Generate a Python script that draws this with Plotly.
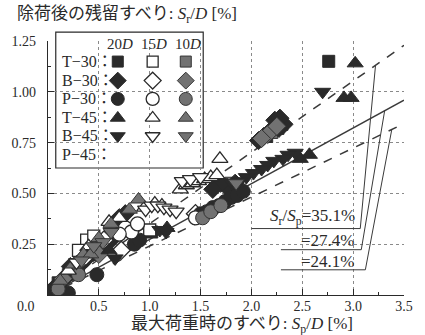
import plotly.graph_objects as go

# ---------------- data ----------------
T30_20_x = [2.76, 2.26, 2.15, 1.02, 0.42, 0.10, 0.30]
T30_20_y = [1.15, 0.82, 0.78, 0.31, 0.20, 0.06, 0.13]
T30_15_x = [1.00, 0.38, 0.30, 0.78, 0.45]
T30_15_y = [0.32, 0.27, 0.22, 0.32, 0.29]
T30_10_x = [2.30, 2.20, 1.80, 0.20]
T30_10_y = [0.84, 0.80, 0.55, 0.10]

B30_20_x = [2.07, 2.12, 2.19, 2.23, 2.27, 2.32, 2.28, 1.84, 1.76, 1.70, 1.62,
            0.05, 0.12, 0.18, 0.25, 0.32, 0.38, 0.45, 0.52, 0.58, 0.62, 0.70, 0.76, 0.22, 0.40]
B30_20_y = [0.76, 0.78, 0.81, 0.86, 0.82, 0.84, 0.87, 0.55, 0.53, 0.55, 0.52,
            0.03, 0.06, 0.09, 0.12, 0.15, 0.18, 0.21, 0.23, 0.26, 0.27, 0.38, 0.40, 0.14, 0.22]
B30_15_x = [0.55, 0.35, 0.72, 1.45]
B30_15_y = [0.27, 0.18, 0.22, 0.40]
B30_10_x = [2.16, 2.25, 2.10, 0.50, 0.28, 0.15]
B30_10_y = [0.79, 0.83, 0.77, 0.20, 0.15, 0.08]

P30_20_x = [0.03, 0.20, 0.48, 0.85, 0.90, 1.50, 1.56, 1.62, 1.68, 1.74, 1.80, 1.86, 1.92]
P30_20_y = [0.02, 0.01, 0.10, 0.25, 0.27, 0.40, 0.41, 0.43, 0.44, 0.46, 0.48, 0.49, 0.51]
P30_15_x = [0.76, 0.82, 0.88, 0.70, 1.45]
P30_15_y = [0.33, 0.31, 0.35, 0.30, 0.38]
P30_10_x = [1.52, 1.60, 1.70, 0.30, 0.10]
P30_10_y = [0.38, 0.41, 0.44, 0.10, 0.03]

T45_20_x = [3.02, 2.91, 2.98, 2.57, 2.48, 1.17, 0.60]
T45_20_y = [1.14, 0.97, 0.97, 0.69, 0.67, 0.33, 0.22]
T45_15_x = [1.69, 1.30, 1.36, 1.42, 1.48, 1.54, 1.60, 1.66, 0.95, 1.05, 1.12, 0.60, 0.70, 0.20, 0.40]
T45_15_y = [0.67, 0.52, 0.54, 0.55, 0.56, 0.57, 0.58, 0.59, 0.43, 0.45, 0.44, 0.36, 0.38, 0.12, 0.24]
T45_10_x = [0.89, 0.80, 0.62, 0.50, 0.35, 0.25, 0.12, 0.42]
T45_10_y = [0.47, 0.42, 0.35, 0.28, 0.20, 0.15, 0.07, 0.20]

B45_20_x = [2.70, 2.43, 2.36, 2.31, 2.22, 2.16, 2.10, 2.02, 1.95, 1.88, 1.81, 1.10, 1.16, 0.66]
B45_20_y = [1.00, 0.70, 0.69, 0.67, 0.66, 0.64, 0.62, 0.60, 0.58, 0.56, 0.55, 0.32, 0.31, 0.18]
B45_15_x = [0.96, 1.02, 1.08, 1.14, 1.20, 1.26, 1.32, 1.40, 1.50, 0.28]
B45_15_y = [0.42, 0.44, 0.44, 0.43, 0.42, 0.41, 0.56, 0.57, 0.58, 0.16]
B45_10_x = [0.54, 0.45, 0.62, 1.85, 0.33]
B45_10_y = [0.26, 0.24, 0.31, 0.55, 0.17]

ratios = [35.1, 27.4, 24.1]           # Sr/Sp [%]
ratio_dash = ["dash", "solid", "dash"]
row_labels = ["T−30：", "B−30：", "P−30：", "T−45：", "B−45：", "P−45："]
col_labels = ["20<i>D</i>", "15<i>D</i>", "10<i>D</i>"]
xticks = [0.0, 0.5, 1.0, 1.5, 2.0, 2.5, 3.0, 3.5]
yticks = [0.0, 0.25, 0.50, 0.75, 1.00, 1.25]

# ---------------- styles ----------------
FONT = "'Liberation Serif', 'Times New Roman', 'Noto Sans CJK JP', serif"
INK = "#2a2a2a"
styles = {
    "20": dict(color=INK, line=dict(color=INK, width=1)),
    "15": dict(color="white", line=dict(color=INK, width=1.3)),
    "10": dict(color="#727272", line=dict(color="#333333", width=1)),
}
symbols = {"T30": "square", "B30": "diamond", "P30": "circle", "T45": "triangle-up", "B45": "triangle-down"}
sizes = {"square": 12, "diamond": 14, "circle": 14, "triangle-up": 14, "triangle-down": 14}

series = [
    ("T30", "20", T30_20_x, T30_20_y), ("T30", "15", T30_15_x, T30_15_y), ("T30", "10", T30_10_x, T30_10_y),
    ("B30", "20", B30_20_x, B30_20_y), ("B30", "15", B30_15_x, B30_15_y), ("B30", "10", B30_10_x, B30_10_y),
    ("P30", "20", P30_20_x, P30_20_y), ("P30", "15", P30_15_x, P30_15_y), ("P30", "10", P30_10_x, P30_10_y),
    ("T45", "20", T45_20_x, T45_20_y), ("T45", "15", T45_15_x, T45_15_y), ("T45", "10", T45_10_x, T45_10_y),
    ("B45", "20", B45_20_x, B45_20_y), ("B45", "15", B45_15_x, B45_15_y), ("B45", "10", B45_10_x, B45_10_y),
]

fig = go.Figure()

# ratio lines
xmax = 3.5
for r, d in zip(ratios, ratio_dash):
    fig.add_trace(go.Scatter(x=[0, xmax], y=[0, xmax * r / 100], mode="lines",
                             line=dict(color="#3a3a3a", width=1.5, dash=d),
                             showlegend=False, hoverinfo="skip"))

for key, dd, xs, ys in series:
    sym = symbols[key]
    fig.add_trace(go.Scatter(x=xs, y=ys, mode="markers", showlegend=False,
                             marker=dict(symbol=sym, size=sizes[sym], **styles[dd])))

# ---------------- custom legend (overlay axes in paper fractions) ----------------
lx0, lx1, ly0, ly1 = 0.0218, 0.436, 0.50, 1.035
col_x = [0.196, 0.294, 0.387]
row_y = [0.919, 0.844, 0.772, 0.697, 0.626, 0.555]
head_y = 0.988
row_keys = ["T30", "B30", "P30", "T45", "B45"]
for ri, key in enumerate(row_keys):
    for ci, dd in enumerate(["20", "15", "10"]):
        sym = symbols[key]
        fig.add_trace(go.Scatter(x=[col_x[ci]], y=[row_y[ri]], mode="markers", xaxis="x2", yaxis="y2",
                                 showlegend=False, cliponaxis=False, hoverinfo="skip",
                                 marker=dict(symbol=sym, size=sizes[sym] - 1, **styles[dd])))

shapes = [dict(type="rect", xref="paper", yref="paper", x0=lx0, x1=lx1, y0=ly0, y1=ly1,
               fillcolor="white", line=dict(color=INK, width=1.2), layer="between")]
annotations = []
for ci, t in enumerate(col_labels):
    annotations.append(dict(xref="paper", yref="paper", x=col_x[ci] + 0.005, y=head_y, text=t, showarrow=False,
                            font=dict(family=FONT, size=15, color=INK), xanchor="center", yanchor="middle"))
for ri, t in enumerate(row_labels):
    annotations.append(dict(xref="paper", yref="paper", x=0.035, y=row_y[ri], text=t, showarrow=False,
                            font=dict(family=FONT, size=16, color=INK), xanchor="left", yanchor="middle"))

# ratio labels with underline + leader
lab_text = ["<i>S</i><sub>r</sub>/<i>S</i><sub>p</sub>=35.1%", "=27.4%", "=24.1%"]
lab_y = [0.382, 0.268, 0.164]
ul_y = [0.327, 0.223, 0.124]
ul_x0 = [2.00, 2.29, 2.29]
ul_x1 = [3.07, 3.08, 3.12]
lead_x = [3.22, 3.31, 3.38]
for i, r in enumerate(ratios):
    annotations.append(dict(x=3.04, y=lab_y[i], text=lab_text[i], showarrow=False, xanchor="right",
                            yanchor="middle", font=dict(family=FONT, size=17, color=INK)))
    shapes.append(dict(type="line", x0=ul_x0[i], x1=ul_x1[i], y0=ul_y[i], y1=ul_y[i],
                       line=dict(color="#3a3a3a", width=1)))
    shapes.append(dict(type="line", x0=ul_x1[i], x1=lead_x[i], y0=ul_y[i], y1=lead_x[i] * r / 100,
                       line=dict(color="#3a3a3a", width=1)))

# titles
annotations.append(dict(xref="paper", yref="paper", x=-0.092, y=1.103, xanchor="left", yanchor="middle",
                        text="除荷後の残留すべり: <i>S</i><sub>r</sub>/<i>D</i> [%]", showarrow=False,
                        font=dict(family=FONT, size=17, color=INK)))
annotations.append(dict(xref="paper", yref="paper", x=0.545, y=-0.118, xanchor="center", yanchor="middle",
                        text="最大荷重時のすべり: <i>S</i><sub>p</sub>/<i>D</i> [%]", showarrow=False,
                        font=dict(family=FONT, size=17, color=INK)))
annotations.append(dict(xref="paper", yref="paper", x=-0.032, y=-0.045, xanchor="right", yanchor="middle",
                        text="0.0", showarrow=False, font=dict(family=FONT, size=14, color=INK)))

axis_common = dict(showline=True, linecolor=INK, linewidth=1.2, mirror=False,
                   showgrid=True, gridcolor="#8a8a8a", griddash="dot", gridwidth=1,
                   ticks="inside", ticklen=6, tickcolor=INK, zeroline=False,
                   tickfont=dict(family=FONT, size=14, color=INK))

fig.update_layout(
    width=425, height=335, margin=dict(l=45, r=13, t=41, b=40),
    paper_bgcolor="white", plot_bgcolor="white", showlegend=False,
    font=dict(family=FONT, color=INK),
    xaxis=dict(range=[0, 3.5], tickvals=xticks, ticktext=[""] + [f"{v:.1f}" for v in xticks[1:]],
               minor=dict(dtick=0.25, ticks="inside", ticklen=3, tickcolor=INK, showgrid=False),
               ticklabelstandoff=-2, **axis_common),
    yaxis=dict(range=[0, 1.25], tickvals=yticks, ticktext=[""] + [f"{v:.2f}" for v in yticks[1:]],
               minor=dict(dtick=0.125, ticks="inside", ticklen=3, tickcolor=INK, showgrid=False),
               ticklabelstandoff=8, **axis_common),
    xaxis2=dict(overlaying="x", range=[0, 1], visible=False),
    yaxis2=dict(overlaying="y", range=[0, 1], visible=False),
    shapes=shapes, annotations=annotations,
)

fig.write_html("out.html", config={"displayModeBar": False},
               post_script="document.body.style.margin='0px';document.body.style.overflow='hidden';")
